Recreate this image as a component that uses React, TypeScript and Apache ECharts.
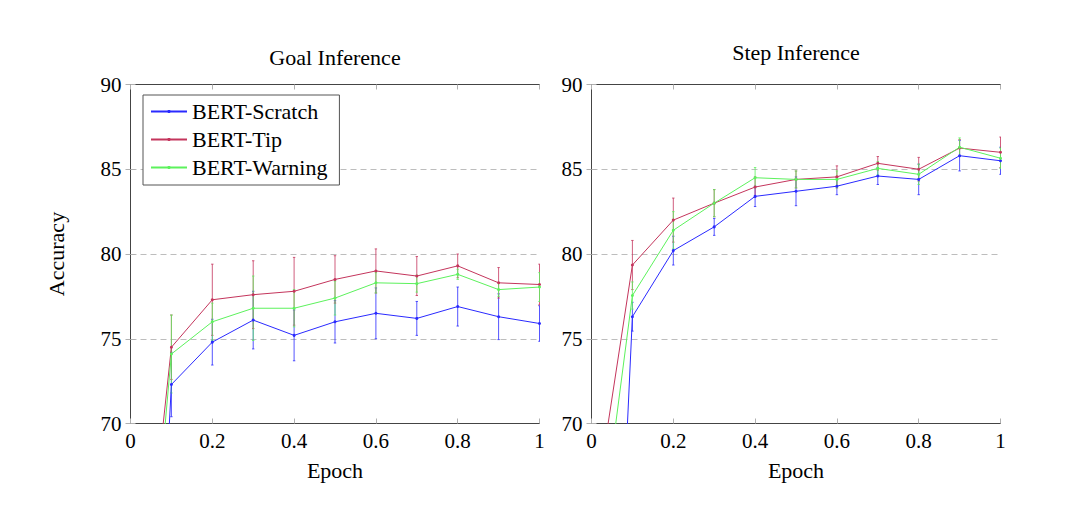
import React, { useEffect, useRef } from "react";
import * as echarts from "echarts";

const epochs = [0, 0.1, 0.2, 0.3, 0.4, 0.5, 0.6, 0.7, 0.8, 0.9, 1.0];
const seriesNames = ["BERT-Scratch", "BERT-Tip", "BERT-Warning"];
const colors = ["#2a2aff", "#c4355c", "#5cf25c"];
const panelTitles = ["Goal Inference", "Step Inference"];
const yTicks = { min: 70, max: 90, interval: 5 };
const xTicks = { min: 0, max: 1, interval: 0.2 };

const goalScratch = [26, 72.3, 74.8, 76.1, 75.2, 76.0, 76.5, 76.2, 76.9, 76.3, 75.9];
const goalScratchErr = [0, 1.9, 1.35, 1.7, 1.5, 1.25, 1.5, 1.0, 1.15, 1.35, 1.05];
const goalTip = [52, 74.5, 77.3, 77.6, 77.8, 78.5, 79.0, 78.7, 79.3, 78.3, 78.2];
const goalTipErr = [0, 1.9, 2.1, 2.0, 2.0, 1.4, 1.3, 1.15, 0.7, 0.9, 1.2];
const goalWarning = [47, 74.1, 76.0, 76.8, 76.8, 77.4, 78.3, 78.25, 78.8, 77.9, 78.05];
const goalWarningErr = [0, 2.3, 1.1, 1.9, 1.1, 1.0, 0.6, 0.5, 0.3, 0.4, 0.85];

const stepScratch = [24, 76.3, 80.2, 81.6, 83.4, 83.7, 84.0, 84.6, 84.4, 85.8, 85.5];
const stepScratchErr = [0, 0.85, 0.85, 0.5, 0.6, 0.85, 0.5, 0.5, 0.9, 0.9, 0.8];
const stepTip = [63.6, 79.35, 82.0, 83.0, 83.95, 84.4, 84.55, 85.35, 85.0, 86.25, 86.0];
const stepTipErr = [0, 1.45, 1.3, 0.8, 0.6, 0.5, 0.65, 0.4, 0.7, 0.5, 0.9];
const stepWarning = [59, 77.55, 81.4, 83.0, 84.5, 84.4, 84.4, 85.05, 84.7, 86.3, 85.65];
const stepWarningErr = [0, 0.8, 1.1, 0.8, 0.6, 0.5, 0.5, 0.4, 0.6, 0.55, 0.6];

const panels = [
  { values: [goalScratch, goalTip, goalWarning], errs: [goalScratchErr, goalTipErr, goalWarningErr] },
  { values: [stepScratch, stepTip, stepWarning], errs: [stepScratchErr, stepTipErr, stepWarningErr] },
];

const FONT = "'Liberation Serif', 'Times New Roman', serif";

export default function App() {
  const ref = useRef<HTMLDivElement>(null);
  useEffect(() => {
    if (!ref.current) return;
    const chart = echarts.init(ref.current, null, { renderer: "svg" });
    const gridLefts = [130.5, 591.5];
    const grids = gridLefts.map((l) => ({ left: l, top: 84.5, width: 409, height: 339, containLabel: false }));

    const xAxes: any[] = [];
    const yAxes: any[] = [];
    grids.forEach((_, gi) => {
      xAxes.push({
        type: "value", gridIndex: gi, position: "bottom", ...xTicks,
        name: "Epoch", nameLocation: "middle", nameGap: 36,
        nameTextStyle: { fontSize: 22, fontFamily: FONT, color: "#000" },
        axisLine: { show: true, lineStyle: { color: "#444", width: 1 } },
        axisTick: { show: true, inside: true, length: 5, lineStyle: { color: "#b0b0b0" } },
        axisLabel: { fontSize: 21, fontFamily: FONT, color: "#000", margin: 7 },
        splitLine: { show: false },
      });
      xAxes.push({
        type: "value", gridIndex: gi, position: "top", ...xTicks,
        axisLine: { show: true, lineStyle: { color: "#444", width: 1 } },
        axisTick: { show: true, inside: true, length: 5, lineStyle: { color: "#b0b0b0" } },
        axisLabel: { show: false },
        splitLine: { show: false },
      });
      yAxes.push({
        type: "value", gridIndex: gi, position: "left", ...yTicks,
        name: gi === 0 ? "Accuracy" : "", nameLocation: "middle", nameGap: 63, nameRotate: 90,
        nameTextStyle: { fontSize: 22, fontFamily: FONT, color: "#000" },
        axisLine: { show: true, lineStyle: { color: "#444", width: 1 } },
        axisTick: { show: true, inside: true, length: 5, lineStyle: { color: "#b0b0b0" } },
        axisLabel: { fontSize: 21, fontFamily: FONT, color: "#000", margin: 9 },
        splitLine: { show: true, lineStyle: { color: "#bdbdbd", type: [6, 4], width: 1 } },
      });
      yAxes.push({
        type: "value", gridIndex: gi, position: "right", ...yTicks,
        axisLine: { show: true, lineStyle: { color: "#444", width: 1 } },
        axisTick: { show: true, inside: true, length: 5, lineStyle: { color: "#b0b0b0" } },
        axisLabel: { show: false },
        splitLine: { show: false },
      });
    });

    const series: any[] = [];
    panels.forEach((p, gi) => {
      p.values.forEach((vals, si) => {
        const color = colors[si];
        series.push({
          type: "custom",
          name: "err-" + gi + "-" + si,
          xAxisIndex: gi * 2, yAxisIndex: gi * 2,
          clip: true,
          z: 1,
          encode: { x: 0, y: 1 },
          data: epochs.map((e, i) => [e, vals[i], p.errs[si][i]]),
          renderItem: (params: any, api: any) => {
            const x = api.value(0), y = api.value(1), er = api.value(2);
            if (!er) return null;
            const t = api.coord([x, y + er]);
            const b = api.coord([x, y - er]);
            const st = { stroke: color, lineWidth: 1, opacity: 0.8 };
            return {
              type: "group",
              children: [
                { type: "line", shape: { x1: t[0], y1: t[1], x2: b[0], y2: b[1] }, style: st },
                { type: "line", shape: { x1: t[0] - 1.2, y1: t[1], x2: t[0] + 1.2, y2: t[1] }, style: st },
                { type: "line", shape: { x1: b[0] - 1.2, y1: b[1], x2: b[0] + 1.2, y2: b[1] }, style: st },
              ],
            };
          },
        });
        series.push({
          type: "line",
          name: seriesNames[si],
          xAxisIndex: gi * 2, yAxisIndex: gi * 2,
          data: epochs.map((e, i) => [e, vals[i]]),
          symbol: "circle", symbolSize: 3, showSymbol: true,
          clip: true, z: 2,
          lineStyle: { color, width: 1 },
          itemStyle: { color },
        });
      });
    });

    chart.setOption({
      animation: false,
      backgroundColor: "#fff",
      grid: grids,
      xAxis: xAxes,
      yAxis: yAxes,
      legend: {
        data: seriesNames,
        orient: "vertical",
        left: 143, top: 95,
        padding: [5, 12, 6, 7],
        itemWidth: 36, itemHeight: 4, itemGap: 5,
        borderColor: "#555", borderWidth: 1, backgroundColor: "#fff",
        textStyle: { fontSize: 22, fontFamily: FONT, color: "#000", lineHeight: 23 },
        selectedMode: false,
      },
      graphic: panelTitles.map((t, i) => ({
        type: "text",
        x: gridLefts[i] + 204.5,
        y: i === 0 ? 57 : 52,
        style: { text: t, fontSize: 22, fontFamily: FONT, fill: "#000", textAlign: "center", textVerticalAlign: "middle" },
      })),
      series,
    });
    return () => chart.dispose();
  }, []);
  return <div ref={ref} style={{ position: "fixed", left: 0, top: 0, width: 1080, height: 517 }} />;
}
